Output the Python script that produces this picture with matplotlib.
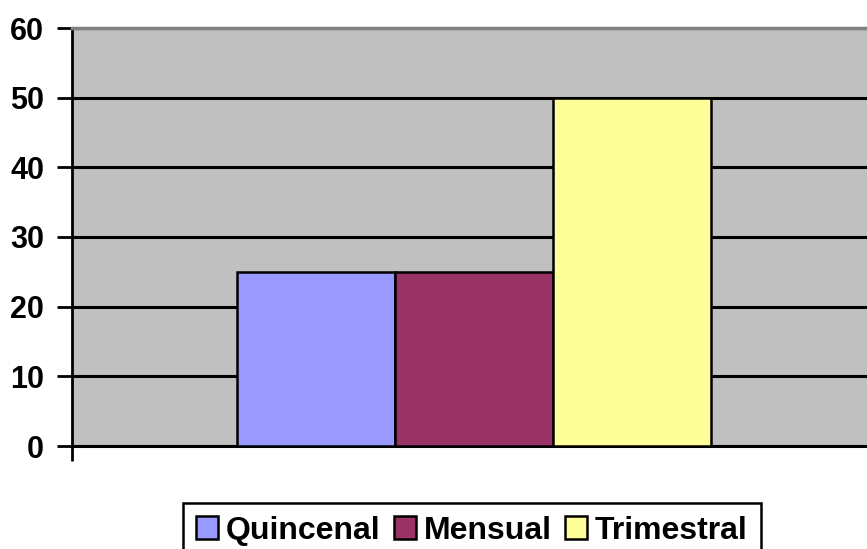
import matplotlib
matplotlib.use("Agg")
from matplotlib import pyplot as plt
from matplotlib.patches import Patch

# Data
categorias = ["Quincenal", "Mensual", "Trimestral"]
valores = [25, 25, 50]
colores = ["#9999FF", "#993366", "#FFFF99"]
y_ticks = [0, 10, 20, 30, 40, 50, 60]

plt.rcParams['font.family'] = ['Liberation Sans', 'DejaVu Sans']

fig = plt.figure(figsize=(8.67, 5.49), dpi=100)
W, H = 867, 549
ax = fig.add_axes([72 / W, 103 / H, 804 / W, 418 / H])
ax.set_facecolor("#C0C0C0")

ancho = 158 / 804
for i, (cat, val, col) in enumerate(zip(categorias, valores, colores)):
    ax.bar((i - 1) * ancho, val, width=ancho, color=col,
           edgecolor="black", linewidth=1.8, zorder=3)

ax.set_xlim(-0.5, 0.5)
ax.set_ylim(0, 60)
ax.set_yticks(y_ticks)
ax.set_yticklabels([str(t) for t in y_ticks], fontsize=22, fontweight="bold")
ax.yaxis.grid(True, color="black", linewidth=2.2, zorder=1)
ax.set_axisbelow(True)
ax.set_xticks([-0.5])
ax.set_xticklabels([""])
ax.tick_params(axis="both", direction="out", length=11, width=2, pad=9)

ax.spines["right"].set_visible(False)
ax.spines["top"].set_color("#808080")
ax.spines["top"].set_linewidth(2.5)
ax.spines["left"].set_linewidth(2)
ax.spines["bottom"].set_linewidth(2.2)

# Legend below the plot
handles = [Patch(facecolor=c, edgecolor="black", linewidth=1.8) for c in colores]
leg = fig.legend(handles, categorias, loc="upper left",
                 bbox_to_anchor=(183 / W, 1 - 503 / H),
                 ncol=3, frameon=True, fancybox=False, framealpha=1,
                 prop={"size": 23, "weight": "bold"},
                 handlelength=0.7, handleheight=0.7, handletextpad=0.25,
                 columnspacing=0.4, borderpad=0.4, borderaxespad=0)
leg.get_frame().set_edgecolor("black")
leg.get_frame().set_linewidth(1.8)

fig.savefig("out.png", dpi=100)
